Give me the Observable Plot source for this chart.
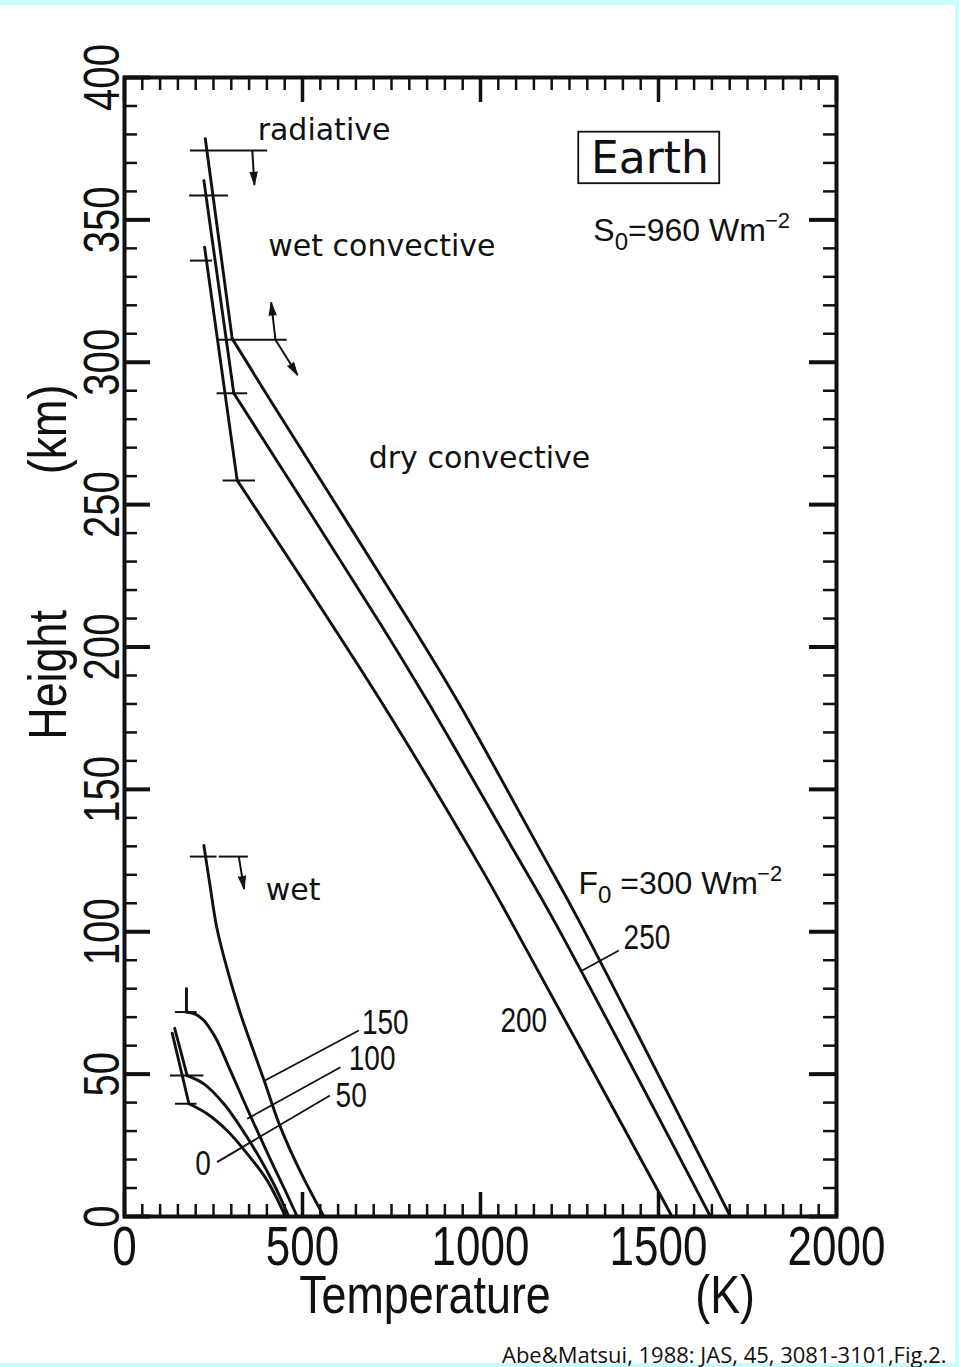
<!DOCTYPE html>
<html><head><meta charset="utf-8">
<script src="https://cdn.jsdelivr.net/npm/d3@7"></script>
<script src="https://cdn.jsdelivr.net/npm/@observablehq/plot@0.6"></script>
<style>
html,body{margin:0;padding:0;background:#c8fcfd;overflow:hidden;width:959px;height:1367px;}
#page{position:absolute;left:0;top:5px;width:955px;height:1358px;background:#fff;}
#cap{position:absolute;left:502px;top:1339px;font-family:"Open Sans",sans-serif;font-size:22px;white-space:nowrap;color:#111;}
</style></head><body>
<div id="page"><div id="chart"></div></div>
<div id="cap">Abe&amp;Matsui, 1988: JAS, 45, 3081-3101,Fig.2.</div>
<script>
// ---- axis ticks and labels ----
const xMajor = [0, 500, 1000, 1500, 2000];
const xMinor = d3.range(0, 2001, 50);
const yMajor = [0, 50, 100, 150, 200, 250, 300, 350, 400];
const yMinor = d3.range(0, 401, 10);
const xTickLabels = ["0", "500", "1000", "1500", "2000"];
const yTickLabels = ["0", "50", "100", "150", "200", "250", "300", "350", "400"];

// ---- temperature profiles [T (K), z (km)], by surface flux F0 (W m-2) ----
const curve300 = [[227,378.5],[302.5,308.3],[410,286.6],[798.6,209.3],[934.6,181.2],[1168.5,128.5],[1276,104],[1702,0]];
const curve250 = [[223,363.8],[307,289.1],[719,208.1],[850,181.2],[1093.6,128.5],[1206,104],[1646,0]];
const curve200 = [[225,340.4],[316.5,258.5],[719,181.2],[1000,122.7],[1084,104],[1538,0]];
const curve150 = [[223,130.3],[241,115.6],[259,101.6],[286,88],[325,71.5],[393,47.5],[436,32],[493,16],[560,0]];
const curve100 = [[174,80],[174,71.8],[200,71],[223,68.8],[245,65],[260,61.8],[300,50.5],[355,35],[410,20],[450,9.5],[485,0]];
const curve50  = [[141,66.1],[176,49.5],[223,46.6],[279,39.6],[326,31.4],[373,22],[419,11.5],[461.5,0]];
const curve0   = [[134,64.4],[181,39.6],[232,36.1],[288,30.2],[345,22],[401,12.6],[452,0]];

// each profile: radiative/wet part up to the kink, then the convective part below it
const kinkedCurves = [curve300, curve250, curve200, curve100, curve50, curve0];

// ---- regime boundary marks [T1, T2, z] ----
const boundaryMarks = [
  [185,402,374.4],[183,292,358.6],[185,247,335.7],
  [264,457,307.9],[260,346,289.1],[277,368,258.5],
  [185,260,126.4],[266,348,126.4],[143,204,71.8],[129,223,49.5],[143,204,39.6]
];
// ---- arrows [T1, z1, T2, z2] ----
const arrows = [[359,374.4,365,362.3],[424,307.9,412,321],[424,307.9,486,295.5],[321,126.4,336,115]];
// ---- label leader lines [T1, z1, T2, z2] ----
const leaders = [[1285.7,86.4,1388.5,93.4],[392,47.6,658,65.3],[344.6,34.3,606.7,52.4],[260,19.1,577,42.5]];

// ---- text labels ----
const wordLabels = [
  {text:"radiative", T:374, z:381.4},
  {text:"wet convective", T:404, z:340.8},
  {text:"dry convective", T:686, z:266.2},
  {text:"wet", T:397, z:114.5}
];
const fluxLabels = [
  {text:"S\u2080=960 Wm\u207B\u00B2", T:1317, z:346.3},
  {text:"F\u2080 =300 Wm\u207B\u00B2", T:1275, z:116.8}
];
const numLabels = [
  {text:"250", T:1402, z:97.8},
  {text:"200", T:1056, z:68.8},
  {text:"150", T:667, z:68.2},
  {text:"100", T:630, z:55.4},
  {text:"50", T:593, z:42.5},
  {text:"0", T:199, z:18.5}
];
const earthBox = [{T1:1276, T2:1672, z1:362.7, z2:380.8}];
const earthLabel = [{text:"Earth", T:1476, z:371.4}];
const xTitle = [{text:"Temperature", T:844}, {text:"(K)", T:1687}];
const yTitle = [{text:"Height", z:190.2}, {text:"(km)", z:276.4}];

// different spellings of the same font stack, so the groups can be told apart afterwards
const narrowFont = "Liberation Sans, Arial, sans-serif";
const titleFont = "Liberation Sans,Arial,sans-serif";
const fluxFont = '"Liberation Sans", sans-serif';
const sans = '"DejaVu Sans",sans-serif';
const ink = "#111";

const pts = a => a.map(([T, z]) => ({T, z}));
const blank = () => "";

const frameOpts = {
  width: 955, height: 1330,
  marginTop: 72, marginLeft: 124, marginRight: 119, marginBottom: 119,
  x: {domain: [0, 2000], axis: null},
  y: {domain: [0, 400], axis: null},
  style: {background: "white", color: ink, overflow: "visible"}
};

// first pass: only to read the scales for arrowhead directions
const base = Plot.plot({...frameOpts, marks: [Plot.frame()]});
const X = base.scale("x"), Y = base.scale("y");
const headAngle = d => Math.atan2(X.apply(d[2]) - X.apply(d[0]), -(Y.apply(d[3]) - Y.apply(d[1]))) * 180 / Math.PI;

const marks = [
  Plot.frame({stroke: ink, strokeWidth: 4}),
  // minor ticks (inward)
  Plot.axisX(xMinor, {anchor: "bottom", tickSize: -12, strokeWidth: 2.5, stroke: ink, tickFormat: blank, label: null}),
  Plot.axisX(xMinor, {anchor: "top", tickSize: -12, strokeWidth: 2.5, stroke: ink, tickFormat: blank, label: null}),
  Plot.axisY(yMinor, {anchor: "left", tickSize: -13, strokeWidth: 2.5, stroke: ink, tickFormat: blank, label: null}),
  Plot.axisY(yMinor, {anchor: "right", tickSize: -14, strokeWidth: 2.5, stroke: ink, tickFormat: blank, label: null}),
  // major ticks
  Plot.axisX(xMajor, {anchor: "bottom", tickSize: -24, strokeWidth: 3.5, stroke: ink, tickFormat: blank, label: null}),
  Plot.axisX(xMajor, {anchor: "top", tickSize: -24, strokeWidth: 3.5, stroke: ink, tickFormat: blank, label: null}),
  Plot.axisY(yMajor, {anchor: "left", tickSize: -26, strokeWidth: 4, stroke: ink, tickFormat: blank, label: null}),
  Plot.axisY(yMajor, {anchor: "right", tickSize: -28, strokeWidth: 4, stroke: ink, tickFormat: blank, label: null}),
  // tick labels
  Plot.text(xTickLabels, {x: d => +d, text: d => d, frameAnchor: "bottom", dy: 31, textAnchor: "middle", lineAnchor: "middle", fontSize: 55, fontFamily: narrowFont, fill: ink}),
  Plot.text(yTickLabels, {y: d => +d, text: d => d, frameAnchor: "left", dx: -22, rotate: -90, textAnchor: "middle", lineAnchor: "middle", fontSize: 50, fontFamily: narrowFont, fill: ink}),
  // axis titles
  Plot.text(xTitle, {x: "T", text: "text", frameAnchor: "bottom", dy: 79, textAnchor: "middle", lineAnchor: "middle", fontSize: 54, fontFamily: titleFont, fill: ink}),
  Plot.text(yTitle, {y: "z", text: "text", frameAnchor: "left", dx: -76, rotate: -90, textAnchor: "middle", lineAnchor: "middle", fontSize: 54, fontFamily: titleFont, fill: ink}),
  // curves
  ...kinkedCurves.map(c => Plot.line(pts(c.slice(0, 2)), {x: "T", y: "z", stroke: ink, strokeWidth: 2.9})),
  ...kinkedCurves.map(c => Plot.line(pts(c.slice(1)), {x: "T", y: "z", stroke: ink, strokeWidth: 2.9, curve: "catmull-rom"})),
  Plot.line(pts(curve150), {x: "T", y: "z", stroke: ink, strokeWidth: 2.9, curve: "catmull-rom"}),
  // boundary marks
  Plot.ruleY(boundaryMarks, {x1: d => d[0], x2: d => d[1], y: d => d[2], stroke: ink, strokeWidth: 2}),
  // arrows: shaft + filled head
  Plot.link(arrows, {x1: d => d[0], y1: d => d[1], x2: d => d[2], y2: d => d[3], stroke: ink, strokeWidth: 2}),
  Plot.vector(arrows, {x: d => d[2], y: d => d[3], rotate: headAngle, length: 13, r: 3.6, shape: "spike", anchor: "end", fill: ink, stroke: ink, strokeWidth: 1}),
  // leader lines
  Plot.link(leaders, {x1: d => d[0], y1: d => d[1], x2: d => d[2], y2: d => d[3], stroke: ink, strokeWidth: 1.8}),
  // labels
  Plot.text(wordLabels, {x: "T", y: "z", text: "text", textAnchor: "start", lineAnchor: "middle", fontSize: 30, fontFamily: sans, fill: ink}),
  Plot.text(fluxLabels, {x: "T", y: "z", text: "text", textAnchor: "start", lineAnchor: "middle", fontSize: 32, fontFamily: fluxFont, fill: ink}),
  Plot.text(numLabels, {x: "T", y: "z", text: "text", textAnchor: "start", lineAnchor: "middle", fontSize: 35, fontFamily: narrowFont, fill: ink}),
  Plot.rect(earthBox, {x1: "T1", x2: "T2", y1: "z1", y2: "z2", fill: "none", stroke: ink, strokeWidth: 1.8}),
  Plot.text(earthLabel, {x: "T", y: "z", text: "text", lineAnchor: "middle", fontSize: 44, fontFamily: sans, fill: ink})
];

const chart = Plot.plot({...frameOpts, marks});
document.getElementById("chart").appendChild(chart);

const groupsByFont = f => Array.from(chart.querySelectorAll("g[font-family]")).filter(g => g.getAttribute("font-family") === f);

// condensed lettering (like the original stencil): squeeze glyphs horizontally
const condense = (f, k) => groupsByFont(f).forEach(g => g.querySelectorAll("text").forEach(t => {
  const w = t.getComputedTextLength();
  if (w > 0) {
    t.setAttribute("textLength", (w * k).toFixed(1));
    t.setAttribute("lengthAdjust", "spacingAndGlyphs");
  }
}));
condense(narrowFont, 0.8);
condense(titleFont, 0.83);

// sub/superscripts as real tspans
const SUB = {"\u2080": "0"}, SUP = {"\u207B": "\u2212", "\u00B2": "2"};
const ns = "http://www.w3.org/2000/svg";
groupsByFont(fluxFont).forEach(g => g.querySelectorAll("text").forEach(t => {
  const s = t.textContent;
  t.textContent = "";
  let shift = 0, firstSup = true;
  for (const ch of s) {
    const ts = document.createElementNS(ns, "tspan");
    let target = 0;
    if (SUB[ch]) { ts.textContent = SUB[ch]; ts.setAttribute("font-size", "24"); target = 9; }
    else if (SUP[ch]) {
      ts.textContent = SUP[ch]; ts.setAttribute("font-size", "22"); target = -13;
      if (firstSup) { ts.setAttribute("dx", "-1"); firstSup = false; }
    }
    else { ts.textContent = ch; }
    if (target !== shift) { ts.setAttribute("dy", String(target - shift)); shift = target; }
    t.appendChild(ts);
  }
}));
</script>
</body></html>
